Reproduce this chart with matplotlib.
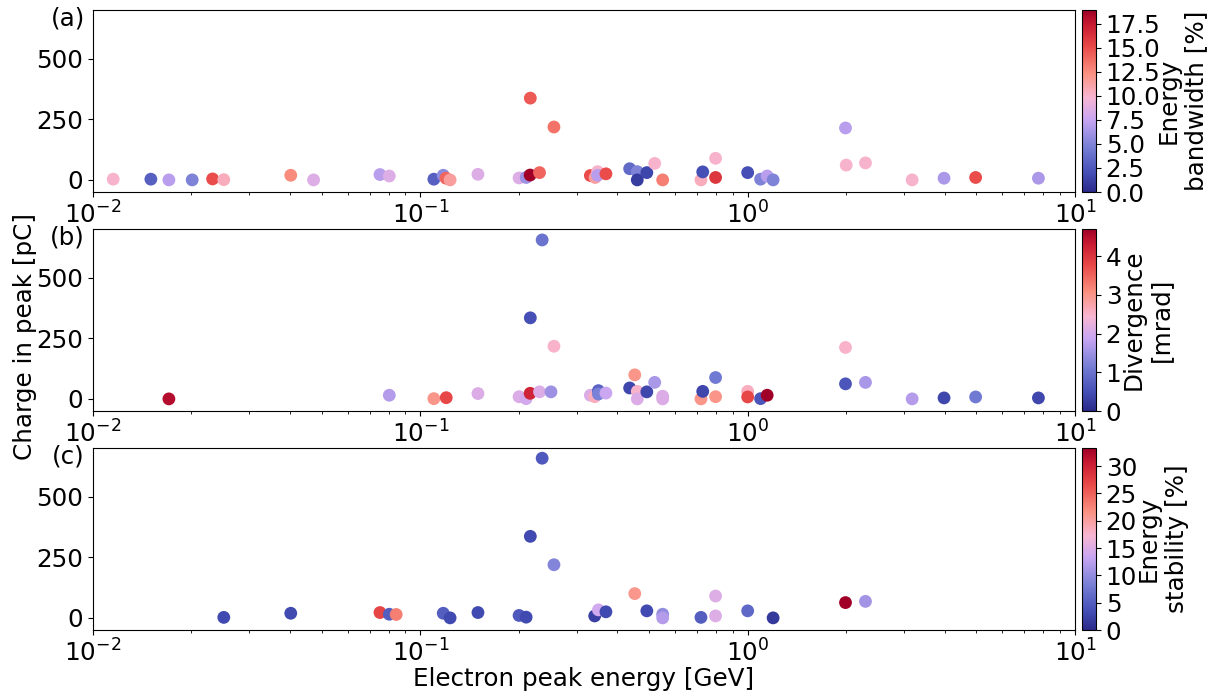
import numpy as np
import matplotlib
matplotlib.use("Agg")
import matplotlib.pyplot as plt
from matplotlib.colors import LinearSegmentedColormap
from matplotlib.ticker import MultipleLocator

# panel (a): energy bandwidth [%]
energy_a = [0.01153, 0.01503, 0.01706, 0.0201, 0.0232, 0.0251, 0.0402, 0.0472, 0.0753, 0.0804,
            0.110, 0.1175, 0.1198, 0.1233, 0.150, 0.2003, 0.2105, 0.2168, 0.2165, 0.2313,
            0.256, 0.3307, 0.342, 0.348, 0.348, 0.369, 0.436, 0.46, 0.46, 0.492,
            0.520, 0.550, 0.720, 0.729, 0.798, 0.798, 1.0, 1.095, 1.147, 1.196,
            1.99, 2.0, 2.29, 3.18, 3.98, 4.97, 7.73]
charge_a = [3, 3, 0, 0, 4, 1, 19, 0, 22, 16,
            3, 19, 7, 0, 23, 8, 10, 337, 20, 30,
            218, 18, 10, 34, 19, 25, 46, 34, 0, 30,
            68, 0, 0, 33, 89, 10, 30, 3, 16, 0,
            214, 61, 70, 0, 7, 10, 7]
bandwidth = [10, 3, 7, 5, 15, 10.5, 12.5, 8.5, 7, 8.5,
             3, 5.5, 14, 11.5, 8.5, 8.5, 6, 14.5, 18.9, 14,
             13.5, 15, 11.5, 10, 7, 15, 3.5, 5, 1, 1.5,
             10, 13, 10.5, 2, 10, 16, 2, 5, 7, 5,
             7, 10, 10, 10, 6.5, 15, 6.5]

# panel (b): divergence [mrad]
energy_b = [0.01706, 0.0804, 0.110, 0.120, 0.150, 0.2003, 0.2105, 0.2168, 0.2165, 0.2313,
            0.2356, 0.2507, 0.256, 0.3307, 0.341, 0.350, 0.350, 0.369, 0.436, 0.452,
            0.46, 0.46, 0.492, 0.520, 0.550, 0.550, 0.72, 0.729, 0.798, 0.798,
            1.0, 1.0, 1.095, 1.147, 1.99, 1.99, 2.29, 3.18, 3.98, 4.97, 7.73]
charge_b = [0, 15, 1, 5, 22, 9, 1, 334, 23, 29,
            655, 29, 217, 15, 9, 34, 20, 24, 45, 99,
            31, 0, 29, 68, 11, 0, 0, 31, 88, 9,
            31, 8, 1, 15, 62, 212, 68, 0, 4, 8, 4]
divergence = [4.5, 1.7, 3.0, 3.8, 2.1, 2.1, 2.0, 0.5, 4.2, 2.1,
              1.0, 1.5, 2.5, 2.1, 2.6, 0.8, 1.2, 1.9, 0.4, 3.0,
              2.5, 2.1, 0.4, 1.6, 2.1, 2.1, 3.0, 0.4, 1.1, 3.0,
              2.6, 3.8, 0.6, 4.7, 0.6, 2.5, 1.6, 1.7, 0.4, 1.1, 0.4]

# panel (c): energy stability [%]
energy_c = [0.0251, 0.0402, 0.0753, 0.0804, 0.0844, 0.1175, 0.1233, 0.150, 0.2003, 0.2105,
            0.2168, 0.2356, 0.256, 0.341, 0.350, 0.369, 0.452, 0.492, 0.55, 0.55,
            0.72, 0.798, 0.798, 1.0, 1.196, 1.99, 2.29]
charge_c = [2, 19, 22, 15, 14, 19, 0, 22, 10, 3,
            336, 658, 219, 8, 33, 25, 100, 29, 15, 0,
            2, 90, 8, 29, 0, 63, 68]
stability = [3, 3, 27, 5, 23, 5, 3, 3, 4.5, 3,
             3, 4.5, 9, 2, 14, 3, 21, 3, 10, 12,
             5, 15, 15, 6, 1.5, 33.3, 11]

cmap = LinearSegmentedColormap.from_list("bwr_custom", [
    (0.0, "#2a2a8a"), (0.10, "#434db4"), (0.25, "#7880d6"), (0.40, "#c9a6f3"),
    (0.52, "#f8b6d2"), (0.65, "#fa9282"), (0.80, "#e94a48"), (0.92, "#c81a32"),
    (1.0, "#a00028")])

plt.rcParams["font.size"] = 17.7

fig = plt.figure(figsize=(12.15, 6.93), dpi=100)
panels = [
    (energy_a, charge_a, bandwidth, "Energy\nbandwidth [%]", "(a)", 0.7229, 2.5, -3),
    (energy_b, charge_b, divergence, "Divergence\n[mrad]", "(b)", 0.4069, 1, 0),
    (energy_c, charge_c, stability, "Energy\nstability [%]", "(c)", 0.0909, 5, 0),
]
axes = []
for xs, ys, cs, clabel, tag, bottom, step, pad in panels:
    ax = fig.add_axes([0.0765, bottom, 0.8083, 0.2626])
    sc = ax.scatter(xs, ys, c=cs, cmap=cmap, vmin=0, s=85, edgecolors="none")
    ax.set_xscale("log")
    ax.set_xlim(1e-2, 1e1)
    ax.set_ylim(-50, 700)
    ax.set_yticks([0, 250, 500])
    ax.text(-0.008, 0.955, tag, transform=ax.transAxes, ha="right", va="center")
    cax = fig.add_axes([0.8905, bottom, 0.0115, 0.2626])
    cb = fig.colorbar(sc, cax=cax)
    cb.ax.yaxis.set_major_locator(MultipleLocator(step))
    cb.set_label(clabel, labelpad=pad)
    axes.append(ax)

fig.text(25 / 1215, 1 - 336 / 693, "Charge in peak [pC]", rotation=90,
         ha="center", va="center", fontsize=17.7)
axes[2].set_xlabel("Electron peak energy [GeV]", labelpad=0)

fig.savefig("out.png", dpi=100)
